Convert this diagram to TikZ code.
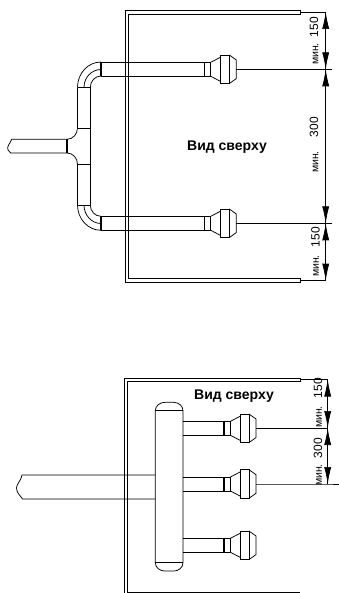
\documentclass[tikz,border=0pt]{standalone}
\usepackage{fontspec}
\setmainfont{Liberation Sans}
\usetikzlibrary{calc,arrows.meta}
\tikzset{
    every path/.style={line width=0.75pt},
    heavy/.style={line width=1.4pt}, % ends of the pipes
    thin line/.style={line width=0.7pt},
    dimtip/.style={line width=0.7pt,-{Latex[length=17pt,width=7pt]}},
    title/.style={font=\fontsize{14}{16}\selectfont\bfseries},
    dimtext/.style={rotate=90,font=\fontsize{12}{14}\selectfont,inner sep=0pt},
    mintext/.style={dimtext,font=\fontsize{10.5}{12}\selectfont},
}
% one nozzle, #1 start of the neck, #2 centre height
\newcommand{\nozzle}[2]{
  \draw[heavy] (#1,#2-7) -- (#1,#2+7);
  \draw (#1,#2-7) -- (#1+6.5,#2-7) (#1,#2+7) -- (#1+6.5,#2+7) (#1+6.5,#2-7) -- (#1+6.5,#2+7);
  \draw (#1+6.5,#2-7) -- (#1+16,#2-12) (#1+6.5,#2+7) -- (#1+16,#2+12);
  \draw (#1+16,#2-14.3) rectangle (#1+25,#2+14.3);
  \draw (#1+25,#2-14.3) -- (#1+32,#2-9.3) -- (#1+32,#2+9.3) -- (#1+25,#2+14.3);
}
\newcommand{\dimhead}[2]{\draw[dimtip] ($(#1)+(0,#2)$) -- (#1);}
\begin{document}
\begin{tikzpicture}[x=1pt,y=-1pt]
  \useasboundingbox (0,0) rectangle (339,593);

  % upper view, walls
  \draw (300.7,14) -- (128.5,14) -- (128.5,278.7) -- (300.7,278.7);
  \draw (300.7,14) -- (300.7,10.5) -- (125.5,10.5) -- (125.5,282) -- (300.7,282) -- (300.7,278.7);

  % upper view, pipes
  \draw (101,62) -- (204,62) (101,76) -- (204,76);
  \draw (101,216.3) -- (204,216.3) (101,230.3) -- (204,230.3);
  \draw[heavy] (101,62) -- (101,76) (101,216.3) -- (101,230.3);
  \draw (77.5,87.3) arc[start angle=180,end angle=270,x radius=23.5,y radius=25.3];
  \draw (84,87.3) arc[start angle=180,end angle=270,x radius=17,y radius=17.8];
  \draw (90.3,87.3) arc[start angle=180,end angle=270,x radius=10.7,y radius=11.3];
  \draw (77.5,205) arc[start angle=180,end angle=90,x radius=23.5,y radius=25.3];
  \draw (84,205) arc[start angle=180,end angle=90,x radius=17,y radius=18.5];
  \draw (90.3,205) arc[start angle=180,end angle=90,x radius=10.7,y radius=11.3];
  \draw (90.3,87.3) -- (90.3,205);
  \draw (77.5,87.3) -- (90.3,87.3) (77.5,128) -- (90.3,128);
  \draw (77.5,164.3) -- (90.3,164.3) (77.5,205) -- (90.3,205);
  \draw (77.5,87.3) -- (77.5,128) arc[start angle=0,end angle=90,x radius=10.5,y radius=11.3];
  \draw (77.5,205) -- (77.5,164.3) arc[start angle=0,end angle=-90,x radius=10.5,y radius=11.3];
  \draw[heavy] (67,139.3) -- (67,153);
  \draw (67,139.3) -- (11.7,139.3) .. controls (10,144) and (6.5,146) .. (8,150) .. controls (8.5,151.5) and (9.5,152) .. (10.7,153) -- (67,153);

  % upper view, nozzles
  \foreach \y in {69.3,223.3}
    \nozzle{204.3}{\y};

  % upper view, dimensions
  \coordinate (a_0) at (325.7,12);
  \coordinate (a_1) at (325.7,69.3);
  \coordinate (a_2) at (325.7,223.3);
  \coordinate (a_3) at (325.7,280.7);
  \draw[thin line] (a_0) -- (a_3);
  \draw[thin line] (300.7,12) -- (a_0) (300.7,280.7) -- (a_3);
  \draw[thin line] (235.7,69.3) -- (a_1) -- (331.7,69.3);
  \draw[thin line] (235.7,223.3) -- (a_2) -- (331.7,223.3);
  \dimhead{a_0}{17} \dimhead{a_1}{-17} \dimhead{a_1}{17}
  \dimhead{a_2}{-17} \dimhead{a_2}{17} \dimhead{a_3}{-17}
  \node[dimtext] (t_1) at (314,27) {150};
  \node[mintext] (t_2) at (315.5,54) {мин.};
  \node[dimtext] (t_3) at (314,127) {300};
  \node[mintext] (t_4) at (315.5,162) {мин.};
  \node[dimtext] (t_5) at (315.5,237) {150};
  \node[mintext] (t_6) at (316,266) {мин.};
  \node[title] (T_1) at (227,147) {Вид сверху};

  % lower view, walls
  \draw (300,381.7) -- (127.7,381.7) -- (127.7,592) -- (300,592);
  \draw (300,381.7) -- (300,378.3) -- (124.3,378.3) -- (124.3,593);

  % lower view, header and pipes
  \draw (155.3,410.7) arc[start angle=180,end angle=270,x radius=9.7,y radius=8.4] -- (173.5,402.3)
    arc[start angle=270,end angle=360,x radius=9.5,y radius=8.4] -- (183,562.7)
    arc[start angle=0,end angle=90,x radius=9.5,y radius=8.4] -- (165,571.1)
    arc[start angle=90,end angle=180,x radius=9.7,y radius=8.4] -- cycle;
  \draw (155.3,410.7) -- (183,410.7) (155.3,562.7) -- (183,562.7);
  \draw (155.3,475) -- (22,475) .. controls (21,481) and (16.5,484) .. (16.5,488) .. controls (16.5,493) and (20,495) .. (22.5,499) -- (155.3,499);
  \foreach \y in {428.3,484,545.3} {
    \draw (183,\y-7) -- (224,\y-7) (183,\y+7) -- (224,\y+7);
    \nozzle{224}{\y};
  }

  % lower view, dimensions
  \coordinate (b_0) at (327.7,379.5);
  \coordinate (b_1) at (327.7,428);
  \coordinate (b_2) at (327.7,484);
  \draw[thin line] (b_0) -- (b_2);
  \draw[thin line] (300,379.5) -- (b_0);
  \draw[thin line] (256,428) -- (b_1);
  \draw[thin line] (256,484) -- (b_2) -- (339,484);
  \dimhead{b_0}{17} \dimhead{b_1}{-17} \dimhead{b_1}{17} \dimhead{b_2}{-17}
  \node[dimtext] (t_7) at (318,388) {150};
  \node[mintext] (t_8) at (319,417) {мин.};
  \node[dimtext] (t_9) at (318,448) {300};
  \node[mintext] (t_10) at (319,475) {мин.};
  \node[title] (T_2) at (234,396) {Вид сверху};
\end{tikzpicture}
\end{document}
